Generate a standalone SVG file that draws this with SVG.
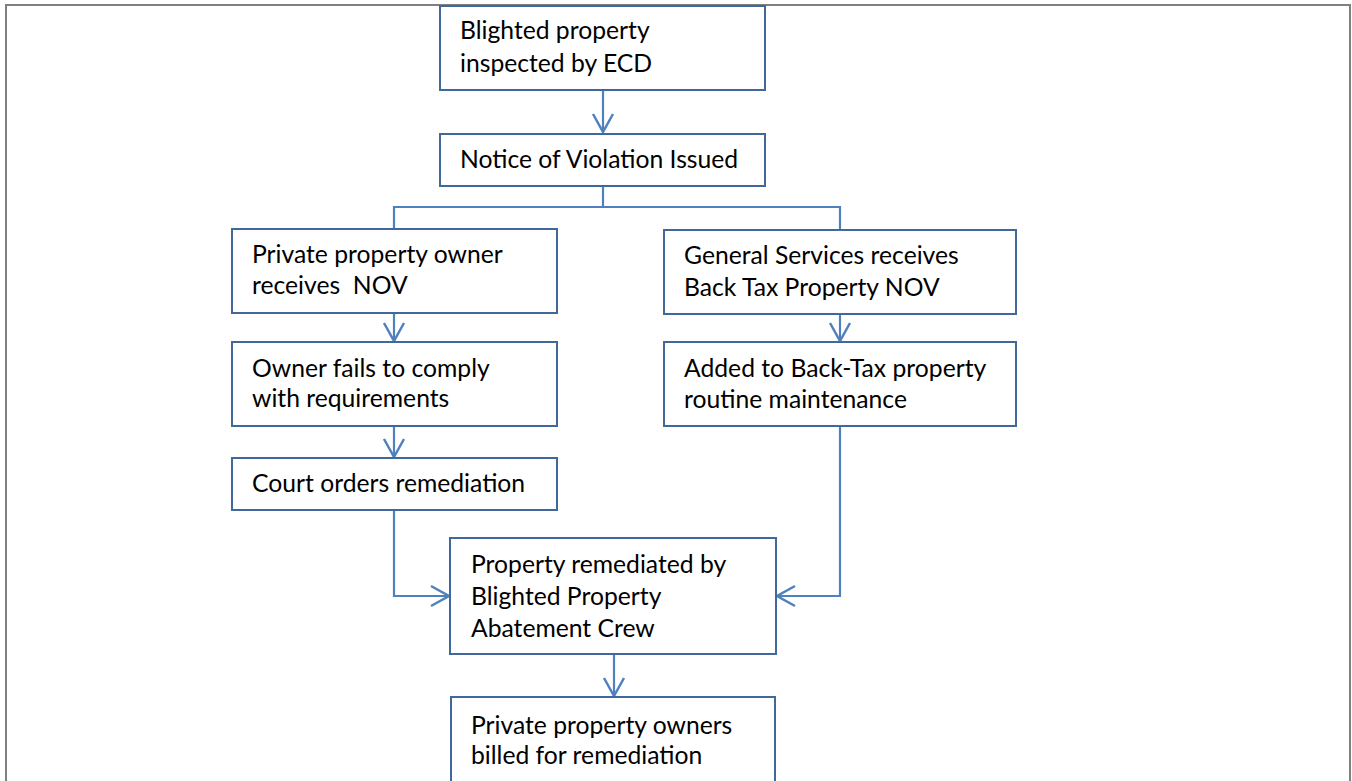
<svg xmlns="http://www.w3.org/2000/svg" width="1352" height="781" viewBox="0 0 1352 781">
<defs>
<style>
.frame{fill:#fff;stroke:#808080;stroke-width:2}
.box{fill:#fff;stroke:#41689A;stroke-width:2}
.lbl{font-family:Lato,"Open Sans","Liberation Sans",sans-serif;font-size:24.7px;fill:#000}
.con{fill:none;stroke:#4F81BD;stroke-width:2.2}
</style>
<marker id="arr" markerUnits="userSpaceOnUse" viewBox="-22 -13 26 26" refX="0" refY="0" markerWidth="26" markerHeight="26" orient="auto">
<path d="M-18,-10 L0,0 L-18,10" fill="none" stroke="#4F81BD" stroke-width="2.5"/>
</marker>
</defs>
<rect class="frame" x="6" y="5" width="1344" height="800"/>
<g id="connectors">
<path class="con" d="M603,90 V132" marker-end="url(#arr)"/>
<path class="con" d="M603,186 V207 M394,207 H840 M394,206 V229 M840,206 V230"/>
<path class="con" d="M394,313 V341" marker-end="url(#arr)"/>
<path class="con" d="M394,426 V457" marker-end="url(#arr)"/>
<path class="con" d="M394,510 V596 H449" marker-end="url(#arr)"/>
<path class="con" d="M840,314 V341" marker-end="url(#arr)"/>
<path class="con" d="M840,426 V596 H777" marker-end="url(#arr)"/>
<path class="con" d="M614,654 V696" marker-end="url(#arr)"/>
</g>
<g id="n1"><rect class="box" x="440" y="6" width="325" height="84"/>
<text class="lbl" x="460" y="39">Blighted property</text><text class="lbl" x="460" y="72">inspected by ECD</text></g>
<g id="n2"><rect class="box" x="440" y="134" width="325" height="52"/>
<text class="lbl" x="460" y="168">Notice of Violation Issued</text></g>
<g id="n3"><rect class="box" x="232" y="229" width="325" height="84"/>
<text class="lbl" x="252" y="263">Private property owner</text><text class="lbl" x="252" y="294" xml:space="preserve">receives  NOV</text></g>
<g id="n4"><rect class="box" x="232" y="342" width="325" height="84"/>
<text class="lbl" x="252" y="377">Owner fails to comply</text><text class="lbl" x="252" y="407">with requirements</text></g>
<g id="n5"><rect class="box" x="232" y="458" width="325" height="52"/>
<text class="lbl" x="252" y="492">Court orders remediation</text></g>
<g id="n6"><rect class="box" x="664" y="230" width="352" height="84"/>
<text class="lbl" x="684" y="264">General Services receives</text><text class="lbl" x="684" y="296">Back Tax Property NOV</text></g>
<g id="n7"><rect class="box" x="664" y="342" width="352" height="84"/>
<text class="lbl" x="684" y="377">Added to Back-Tax property</text><text class="lbl" x="684" y="408">routine maintenance</text></g>
<g id="n8"><rect class="box" x="450" y="538" width="326" height="116"/>
<text class="lbl" x="471" y="573">Property remediated by</text><text class="lbl" x="471" y="605">Blighted Property</text><text class="lbl" x="471" y="637">Abatement Crew</text></g>
<g id="n9"><rect class="box" x="451" y="697" width="324" height="90"/>
<text class="lbl" x="471" y="734">Private property owners</text><text class="lbl" x="471" y="764">billed for remediation</text></g>
</svg>
